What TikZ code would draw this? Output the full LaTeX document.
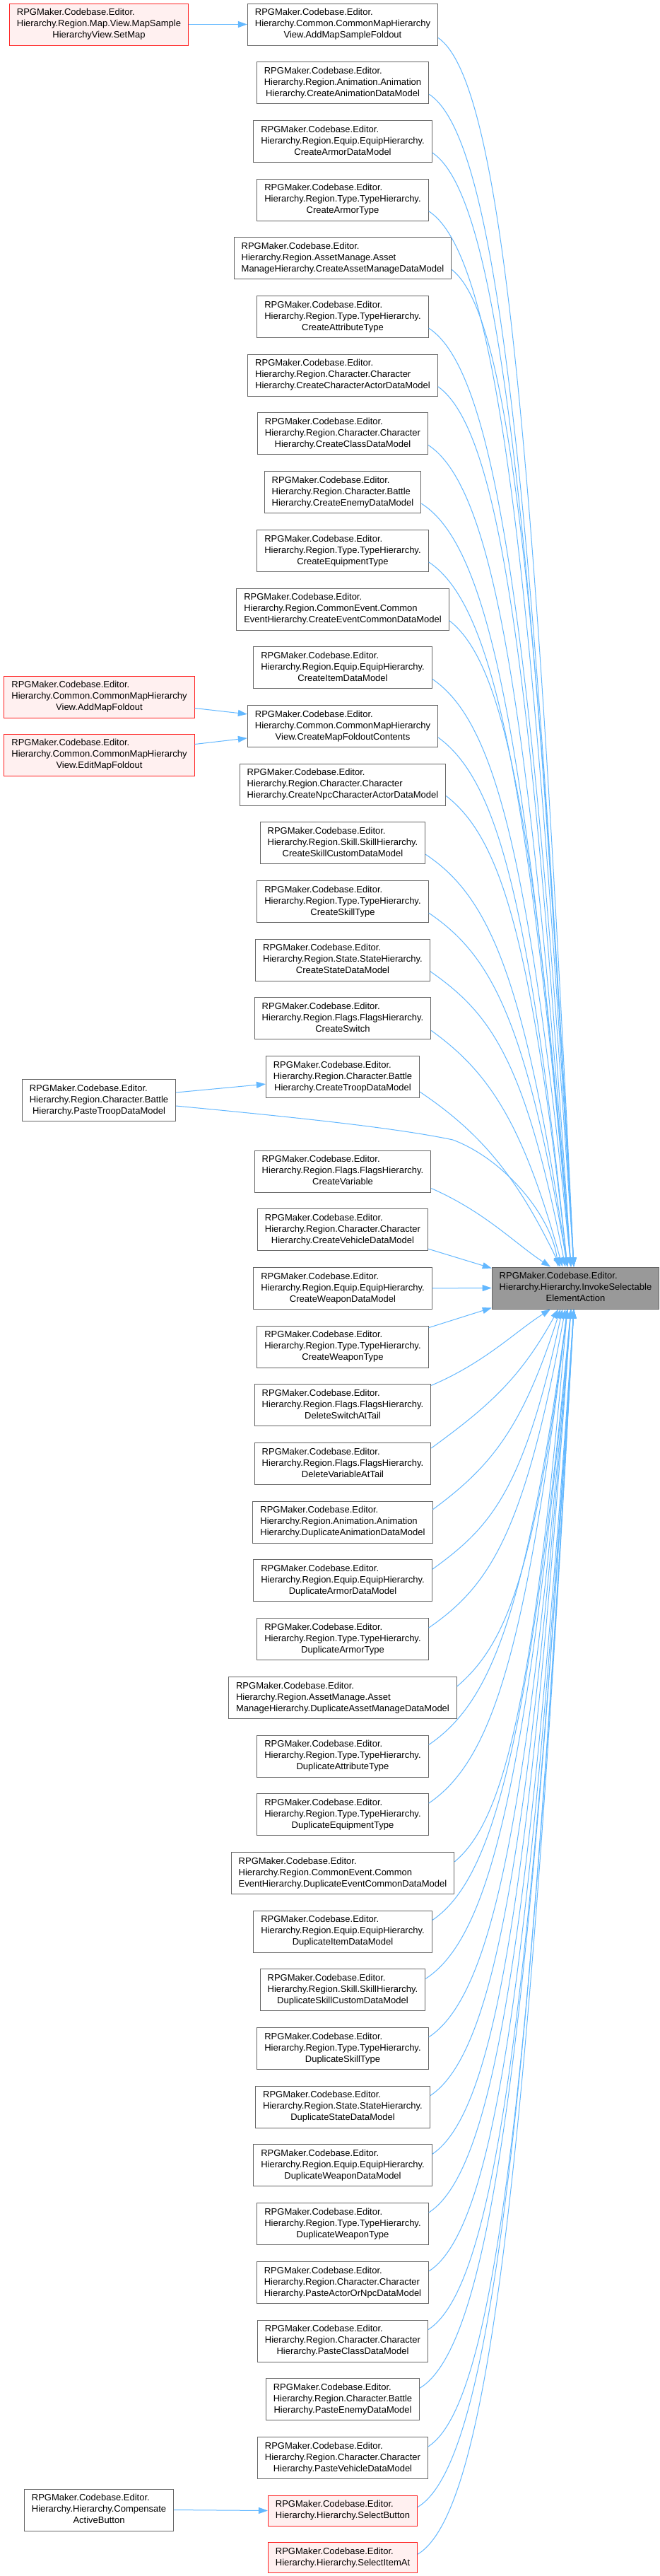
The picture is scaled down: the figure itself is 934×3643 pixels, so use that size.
\documentclass[tikz,border=0pt]{standalone}
\usepackage{fontspec}
\setmainfont{Liberation Sans}
\usetikzlibrary{arrows.meta,calc}
\definecolor{cBlue}{HTML}{63B8FF}
\definecolor{cRed}{HTML}{FF2020}
\definecolor{cPink}{HTML}{FFF0F0}
\definecolor{cBord}{HTML}{666666}
\definecolor{cRoot}{HTML}{999999}
\newcommand\rp{RPGMaker.Codebase.Editor.}
\newcommand\threel[2]{\begin{tabular}{@{}l@{}}\rp\\#1\\\multicolumn{1}{@{}c@{}}{#2}\end{tabular}}
\newcommand\twol[1]{\begin{tabular}{@{}l@{}}\rp\\\multicolumn{1}{@{}c@{}}{#1}\end{tabular}}
\newcommand\cedge[3]{\draw[link] let \p1=(#1), \p2=(#2), \n1={(\y2-\y1)/abs(\y2-\y1)}, \n2={min(60,0.3*abs(\y2-\y1))} in (\p1) .. controls ({\x1+0.45*(\x2-\x1)},{\y1+\n2*(\n1)}) and ({\x2-0.3*(\x2-\x1)},{\y2-#3*(\y2-\y1)}) .. (\p2);}
\tikzset{
  box/.style={rectangle, draw=cBord, fill=white, line width=1pt, inner xsep=10.5pt, inner ysep=5.5pt},
  rbox/.style={box, draw=cRed, fill=cPink},
  rootbox/.style={box, fill=cRoot},
  link/.style={draw=cBlue, line width=1pt, -{Triangle[length=13pt,width=9pt]}, fill=none}
}
\begin{document}
\begin{tikzpicture}[x=1pt,y=-1pt,font=\fontsize{13}{16}\selectfont]
\useasboundingbox (0,0) rectangle (934,3643);
\fill[white] (0,0) rectangle (934,3643);
% root
\node[rootbox] (g) at (814.5,1821.5) {\threel{Hierarchy.Hierarchy.InvokeSelectable}{ElementAction}};
% middle column
\node[box] (n0) at (485,34.5) {\threel{Hierarchy.Common.CommonMapHierarchy}{View.AddMapSampleFoldout}};
\node[box] (n1) at (485,117.2) {\threel{Hierarchy.Region.Animation.Animation}{Hierarchy.CreateAnimationDataModel}};
\node[box] (n2) at (485,199.9) {\threel{Hierarchy.Region.Equip.EquipHierarchy.}{CreateArmorDataModel}};
\node[box] (n3) at (485,282.6) {\threel{Hierarchy.Region.Type.TypeHierarchy.}{CreateArmorType}};
\node[box] (n4) at (485,365.3) {\threel{Hierarchy.Region.AssetManage.Asset}{ManageHierarchy.CreateAssetManageDataModel}};
\node[box] (n5) at (485,448.0) {\threel{Hierarchy.Region.Type.TypeHierarchy.}{CreateAttributeType}};
\node[box] (n6) at (485,530.7) {\threel{Hierarchy.Region.Character.Character}{Hierarchy.CreateCharacterActorDataModel}};
\node[box] (n7) at (485,613.4) {\threel{Hierarchy.Region.Character.Character}{Hierarchy.CreateClassDataModel}};
\node[box] (n8) at (485,696.1) {\threel{Hierarchy.Region.Character.Battle}{Hierarchy.CreateEnemyDataModel}};
\node[box] (n9) at (485,778.8) {\threel{Hierarchy.Region.Type.TypeHierarchy.}{CreateEquipmentType}};
\node[box] (n10) at (485,861.5) {\threel{Hierarchy.Region.CommonEvent.Common}{EventHierarchy.CreateEventCommonDataModel}};
\node[box] (n11) at (485,944.2) {\threel{Hierarchy.Region.Equip.EquipHierarchy.}{CreateItemDataModel}};
\node[box] (n12) at (485,1026.9) {\threel{Hierarchy.Common.CommonMapHierarchy}{View.CreateMapFoldoutContents}};
\node[box] (n13) at (485,1109.6) {\threel{Hierarchy.Region.Character.Character}{Hierarchy.CreateNpcCharacterActorDataModel}};
\node[box] (n14) at (485,1192.3) {\threel{Hierarchy.Region.Skill.SkillHierarchy.}{CreateSkillCustomDataModel}};
\node[box] (n15) at (485,1275.0) {\threel{Hierarchy.Region.Type.TypeHierarchy.}{CreateSkillType}};
\node[box] (n16) at (485,1357.7) {\threel{Hierarchy.Region.State.StateHierarchy.}{CreateStateDataModel}};
\node[box] (n17) at (485,1440.4) {\threel{Hierarchy.Region.Flags.FlagsHierarchy.}{CreateSwitch}};
\node[box] (n18) at (485,1523.1) {\threel{Hierarchy.Region.Character.Battle}{Hierarchy.CreateTroopDataModel}};
\node[box] (n19) at (485,1656.5) {\threel{Hierarchy.Region.Flags.FlagsHierarchy.}{CreateVariable}};
\node[box] (n20) at (485,1739.2) {\threel{Hierarchy.Region.Character.Character}{Hierarchy.CreateVehicleDataModel}};
\node[box] (n21) at (485,1821.9) {\threel{Hierarchy.Region.Equip.EquipHierarchy.}{CreateWeaponDataModel}};
\node[box] (n22) at (485,1904.6) {\threel{Hierarchy.Region.Type.TypeHierarchy.}{CreateWeaponType}};
\node[box] (n23) at (485,1987.3) {\threel{Hierarchy.Region.Flags.FlagsHierarchy.}{DeleteSwitchAtTail}};
\node[box] (n24) at (485,2070.0) {\threel{Hierarchy.Region.Flags.FlagsHierarchy.}{DeleteVariableAtTail}};
\node[box] (n25) at (485,2152.7) {\threel{Hierarchy.Region.Animation.Animation}{Hierarchy.DuplicateAnimationDataModel}};
\node[box] (n26) at (485,2235.4) {\threel{Hierarchy.Region.Equip.EquipHierarchy.}{DuplicateArmorDataModel}};
\node[box] (n27) at (485,2318.1) {\threel{Hierarchy.Region.Type.TypeHierarchy.}{DuplicateArmorType}};
\node[box] (n28) at (485,2400.8) {\threel{Hierarchy.Region.AssetManage.Asset}{ManageHierarchy.DuplicateAssetManageDataModel}};
\node[box] (n29) at (485,2483.5) {\threel{Hierarchy.Region.Type.TypeHierarchy.}{DuplicateAttributeType}};
\node[box] (n30) at (485,2566.2) {\threel{Hierarchy.Region.Type.TypeHierarchy.}{DuplicateEquipmentType}};
\node[box] (n31) at (485,2648.9) {\threel{Hierarchy.Region.CommonEvent.Common}{EventHierarchy.DuplicateEventCommonDataModel}};
\node[box] (n32) at (485,2731.6) {\threel{Hierarchy.Region.Equip.EquipHierarchy.}{DuplicateItemDataModel}};
\node[box] (n33) at (485,2814.3) {\threel{Hierarchy.Region.Skill.SkillHierarchy.}{DuplicateSkillCustomDataModel}};
\node[box] (n34) at (485,2897.0) {\threel{Hierarchy.Region.Type.TypeHierarchy.}{DuplicateSkillType}};
\node[box] (n35) at (485,2979.7) {\threel{Hierarchy.Region.State.StateHierarchy.}{DuplicateStateDataModel}};
\node[box] (n36) at (485,3062.4) {\threel{Hierarchy.Region.Equip.EquipHierarchy.}{DuplicateWeaponDataModel}};
\node[box] (n37) at (485,3145.1) {\threel{Hierarchy.Region.Type.TypeHierarchy.}{DuplicateWeaponType}};
\node[box] (n38) at (485,3227.8) {\threel{Hierarchy.Region.Character.Character}{Hierarchy.PasteActorOrNpcDataModel}};
\node[box] (n39) at (485,3310.5) {\threel{Hierarchy.Region.Character.Character}{Hierarchy.PasteClassDataModel}};
\node[box] (n40) at (485,3393.2) {\threel{Hierarchy.Region.Character.Battle}{Hierarchy.PasteEnemyDataModel}};
\node[box] (n41) at (485,3475.9) {\threel{Hierarchy.Region.Character.Character}{Hierarchy.PasteVehicleDataModel}};
\node[rbox] (n42) at (485,3550.5) {\twol{Hierarchy.Hierarchy.SelectButton}};
\node[rbox] (n43) at (485,3617.2) {\twol{Hierarchy.Hierarchy.SelectItemAt}};
% left column
\node[rbox] (setmap) at (140,34.5) {\threel{Hierarchy.Region.Map.View.MapSample}{HierarchyView.SetMap}};
\node[rbox] (addmap) at (140.5,985.5) {\threel{Hierarchy.Common.CommonMapHierarchy}{View.AddMapFoldout}};
\node[rbox] (editmap) at (140.5,1067.5) {\threel{Hierarchy.Common.CommonMapHierarchy}{View.EditMapFoldout}};
\node[box] (pastetroop) at (140,1556) {\threel{Hierarchy.Region.Character.Battle}{Hierarchy.PasteTroopDataModel}};
\node[box] (compensate) at (140,3549.5) {\threel{Hierarchy.Hierarchy.Compensate}{ActiveButton}};
% left edges
\draw[link] (setmap.east) -- (n0.west);
\draw[link] ($(addmap.east)+(0,16)$) -- ($(n12.west)+(0,-17)$);
\draw[link] ($(editmap.east)+(0,-15)$) -- ($(n12.west)+(0,17)$);
\draw[link] ($(pastetroop.east)+(0,-11)$) -- ($(n18.west)+(0,10)$);
\draw[link] ($(pastetroop.east)+(0,8)$) .. controls (450,1583) and (570,1597) .. (641,1612) .. controls (715,1640) and (780,1720) .. ($(g.north)+(-24.5,0)$);
\draw[link] (compensate.east) -- (n42.west);
% edges into the root from above
\foreach \i/\dx/\s/\f in {0/-2.5/19/0.7, 1/-2.5/16/0.7, 2/-2.5/16/0.7, 3/-2.5/16/0.7, 4/-2.5/16/0.7, 5/-2.5/16/0.7,
  6/-6.5/16/0.7, 7/-6.5/16/0.7, 8/-6.5/16/0.7, 9/-6.5/16/0.7, 10/-6.5/16/0.7, 11/-6.5/16/0.7,
  12/-11.5/16/0.7, 13/-11.5/16/0.7, 14/-11.5/16/0.7, 15/-11.5/16/0.7, 16/-14.5/16/0.7,
  17/-18.5/17/0.6, 18/-21.5/21/0.5, 19/-35.5/24/0.3}
  {\cedge{$(n\i.east)+(0,\s)$}{$(g.north)+(\dx,0)$}{\f}}
% straight ones
\draw[link] ($(n20.east)+(0,27)$) -- ($(g.north west)+(0,2)$);
\draw[link] (n21.east) -- (g.west);
\draw[link] ($(n22.east)+(0,-27)$) -- ($(g.south west)+(0,-2)$);
% edges into the root from below
\foreach \i/\dx/\s/\f in {23/-35.5/-28/0.3, 24/-24.5/-22/0.5, 25/-21.5/-18/0.6, 26/-18.5/-16/0.7, 27/-14.5/-16/0.7,
  28/-11.5/-16/0.7, 29/-11.5/-16/0.7, 30/-11.5/-16/0.7, 31/-11.5/-16/0.7,
  32/-6.5/-16/0.7, 33/-6.5/-16/0.7, 34/-6.5/-16/0.7, 35/-6.5/-16/0.7, 36/-6.5/-16/0.7,
  37/-2.5/-16/0.7, 38/-2.5/-16/0.7, 39/-2.5/-16/0.7, 40/-2.5/-16/0.7, 41/-2.5/-16/0.7,
  42/-2.5/-5/0.7, 43/-2.5/-5/0.7}
  {\cedge{$(n\i.east)+(0,\s)$}{$(g.south)+(\dx,0)$}{\f}}
\end{tikzpicture}
\end{document}
